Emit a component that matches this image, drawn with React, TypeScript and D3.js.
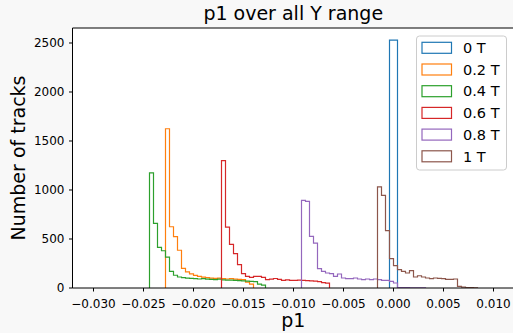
import React from "react";
import * as d3 from "d3";

const binOrigin = -0.03;
const binWidth = 0.0004;

const labels = ["0 T", "0.2 T", "0.4 T", "0.6 T", "0.8 T", "1 T"];
const colors = ["#1f77b4", "#ff7f0e", "#2ca02c", "#d62728", "#9467bd", "#8c564b"];
const startBins = [74, 18, 14, 32, 52, 71];

const counts0T = [2530, 2530];
const counts02T = [1625, 625, 525, 385, 200, 165, 145, 128, 118, 110, 105, 100, 98, 100, 95, 92, 95, 90, 88, 85, 60, 40];
const counts04T = [1175, 660, 415, 380, 315, 170, 130, 112, 105, 100, 98, 95, 92, 95, 90, 88, 85, 90, 82, 80, 80, 78, 75, 72, 70, 68, 65, 40, 30];
const counts06T = [1300, 622, 445, 350, 238, 146, 118, 108, 118, 118, 108, 85, 90, 97, 87, 77, 82, 77, 77, 80, 78, 75, 72, 70, 65, 55, 50];
const counts08T = [894, 884, 527, 458, 198, 170, 153, 146, 119, 143, 102, 95, 95, 102, 92, 85, 92, 85, 92, 85, 78, 78, 68, 51, 4, 3, 3, 2, 2, 2, 1];
const counts1T = [1031, 945, 585, 299, 228, 187, 170, 153, 177, 112, 125, 112, 102, 95, 102, 99, 95, 88, 88, 92, 17, 8, 5, 3, 2];

const allCounts = [counts0T, counts02T, counts04T, counts06T, counts08T, counts1T];

const xTicks = [-0.03, -0.025, -0.02, -0.015, -0.01, -0.005, 0, 0.005, 0.01];
const yTicks = [0, 500, 1000, 1500, 2000, 2500];

const W = 513, H = 333;
const left = 72.5, right = 514, top = 28, bottom = 288;
const FONT = "DejaVu Sans, sans-serif";

export default function App() {
  const x = d3.scaleLinear().domain([-0.0321, 0.01205]).range([left, right]);
  const y = d3.scaleLinear().domain([0, 2653]).range([bottom, top]);

  const stepPath = (start: number, counts: number[]) => {
    const p = d3.path();
    const x0 = x(binOrigin + start * binWidth);
    p.moveTo(x0, y(0));
    counts.forEach((c, i) => {
      const xa = x(binOrigin + (start + i) * binWidth);
      const xb = x(binOrigin + (start + i + 1) * binWidth);
      p.lineTo(xa, y(c));
      p.lineTo(xb, y(c));
    });
    p.lineTo(x(binOrigin + (start + counts.length) * binWidth), y(0));
    return p.toString();
  };

  const fmt = (v: number) => {
    const s = Math.abs(v).toFixed(3);
    return v < -1e-9 ? "\u2212" + s : s;
  };

  const legX = 416.5, legY = 36, legW = 90, legH = 134, rowH = 21.7;

  return (
    <svg width={W} height={H} style={{ position: "absolute", left: 0, top: 0 }} fontFamily={FONT}>
      <defs>
        <clipPath id="plotclip">
          <rect x={left} y={top} width={right - left} height={bottom - top} />
        </clipPath>
      </defs>
      <rect x={0} y={0} width={W} height={H} fill="#f8f8f8" />
      <rect x={left} y={top} width={right - left} height={bottom - top} fill="#ffffff" />

      <g clipPath="url(#plotclip)">
        {allCounts.map((c, i) => (
          <path key={i} d={stepPath(startBins[i], c)} fill="none" stroke={colors[i]} strokeWidth={1.2} strokeLinejoin="miter" />
        ))}
      </g>

      {/* spines */}
      <line x1={left} x2={left} y1={top} y2={bottom} stroke="#000" strokeWidth={1} />
      <line x1={left} x2={right} y1={top} y2={top} stroke="#000" strokeWidth={1} />
      <line x1={left} x2={right} y1={bottom} y2={bottom} stroke="#000" strokeWidth={1} />
      <line x1={right} x2={right} y1={top} y2={bottom} stroke="#000" strokeWidth={1} />

      {/* y ticks */}
      {yTicks.map((t) => (
        <g key={t}>
          <line x1={left - 3.5} x2={left} y1={y(t)} y2={y(t)} stroke="#000" strokeWidth={1} />
          <text x={left - 8} y={y(t)} dy="0.36em" textAnchor="end" fontSize={12} fill="#000">
            {t}
          </text>
        </g>
      ))}

      {/* x ticks */}
      {xTicks.map((t) => (
        <g key={t}>
          <line x1={x(t)} x2={x(t)} y1={bottom} y2={bottom + 3.5} stroke="#000" strokeWidth={1} />
          <text x={x(t)} y={307.5} textAnchor="middle" fontSize={12} fill="#000">
            {fmt(t)}
          </text>
        </g>
      ))}

      <text x={(left + right) / 2} y={20} textAnchor="middle" fontSize={19} fill="#000">
        p1 over all Y range
      </text>
      <text x={(left + right) / 2} y={327} textAnchor="middle" fontSize={19} fill="#000">
        p1
      </text>
      <text transform={`translate(25,${(top + bottom) / 2}) rotate(-90)`} textAnchor="middle" fontSize={19} fill="#000">
        Number of tracks
      </text>

      {/* legend */}
      <rect x={legX} y={legY} width={legW} height={legH} rx={3} fill="#ffffff" fillOpacity={0.8} stroke="#cccccc" strokeWidth={1} />
      {labels.map((l, i) => {
        const cy = 47.8 + i * rowH;
        return (
          <g key={l}>
            <rect x={422} y={cy - 5.5} width={29.5} height={11} fill="none" stroke={colors[i]} strokeWidth={1.2} />
            <text x={463} y={cy} dy="0.36em" fontSize={14.5} fill="#000">
              {l}
            </text>
          </g>
        );
      })}
    </svg>
  );
}
